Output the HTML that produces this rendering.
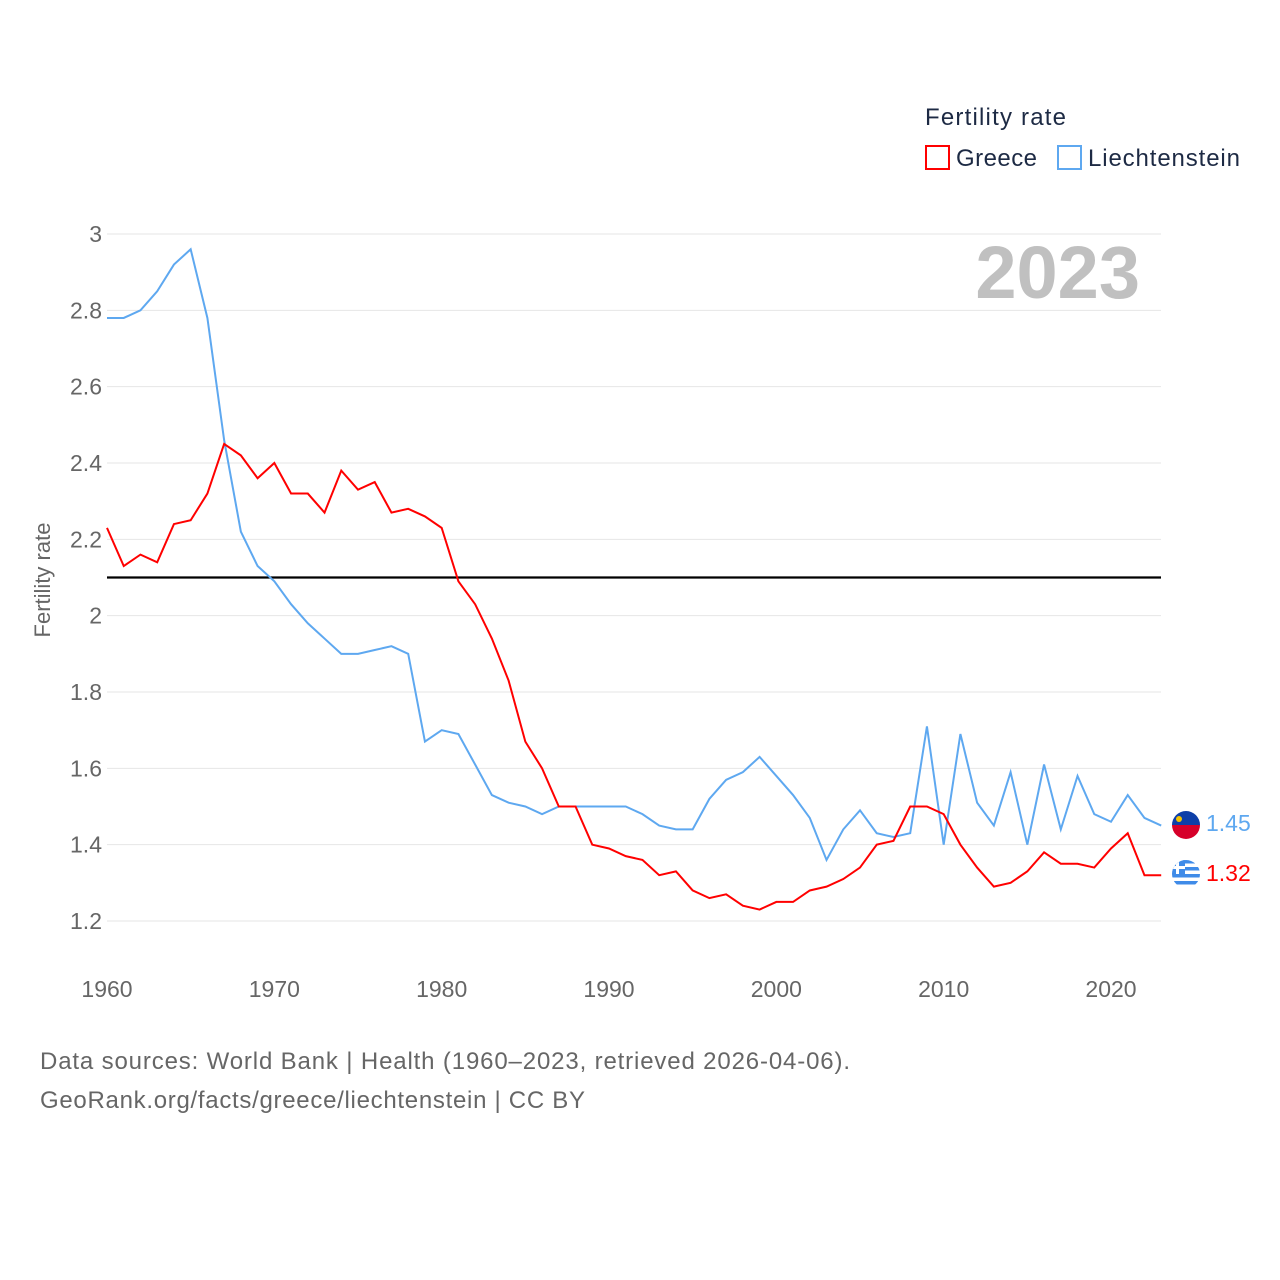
<!DOCTYPE html>
<html><head><meta charset="utf-8"><style>
body{margin:0;background:#fff;}
svg{display:block;font-family:"Liberation Sans",sans-serif;}
</style></head><body>
<svg id="chart" width="1280" height="1280" viewBox="0 0 1280 1280">
<g id="grid"></g>
<g id="yticks"></g>
<g id="xticks"></g>
<text x="1140" y="298" text-anchor="end" font-size="74" font-weight="bold" fill="#c0c0c0">2023</text>
<text transform="translate(50,580) rotate(-90)" text-anchor="middle" font-size="22" fill="#666">Fertility rate</text>
<line id="refline" x1="107" x2="1161" stroke="#000" stroke-width="2.2"/>
<g id="series"></g>
<g>
<text x="925" y="125" font-size="24" fill="#1d2a44" textLength="141">Fertility rate</text>
<g><rect x="926" y="146" width="23" height="23" fill="none" stroke="#f00" stroke-width="2"/><text x="956" y="166" font-size="24" fill="#1d2a44" textLength="81">Greece</text></g>
<g><rect x="1058" y="146" width="23" height="23" fill="none" stroke="#5ea8f0" stroke-width="2"/><text x="1088" y="166" font-size="24" fill="#1d2a44" textLength="152">Liechtenstein</text></g>
</g>
<g><clipPath id="c1"><circle cx="1186" cy="825" r="14"/></clipPath><g clip-path="url(#c1)"><rect x="1170" y="810" width="32" height="15" fill="#0d3fa8"/><rect x="1170" y="825" width="32" height="16" fill="#d6002a"/><circle cx="1179" cy="819" r="3" fill="#f5c400"/></g></g>
<g><clipPath id="c2"><circle cx="1186" cy="874" r="14"/></clipPath><g clip-path="url(#c2)"><rect x="1170" y="858" width="32" height="32" fill="#fff"/><rect x="1170" y="860" width="32" height="3.5" fill="#3f8be8"/><rect x="1170" y="867" width="32" height="3.5" fill="#3f8be8"/><rect x="1170" y="874" width="32" height="3.5" fill="#3f8be8"/><rect x="1170" y="881" width="32" height="3.5" fill="#3f8be8"/><rect x="1170" y="860" width="15" height="14" fill="#3f8be8"/><rect x="1176" y="860" width="3" height="14" fill="#fff"/><rect x="1170" y="866" width="15" height="3" fill="#fff"/></g></g>
<text x="1206" y="831" font-size="23" fill="#5ea8f0">1.45</text>
<text x="1206" y="881" font-size="23" fill="#f00">1.32</text>
<text x="40" y="1069" font-size="24" fill="#666" textLength="810">Data sources: World Bank | Health (1960–2023, retrieved 2026-04-06).</text>
<text x="40" y="1108" font-size="24" fill="#666" textLength="545">GeoRank.org/facts/greece/liechtenstein | CC BY</text>
</svg>
<script>
const years=[];for(let y=1960;y<=2023;y++)years.push(y);
const greece=[2.23,2.13,2.16,2.14,2.24,2.25,2.32,2.45,2.42,2.36,2.40,2.32,2.32,2.27,2.38,2.33,2.35,2.27,2.28,2.26,2.23,2.09,2.03,1.94,1.83,1.67,1.60,1.50,1.50,1.40,1.39,1.37,1.36,1.32,1.33,1.28,1.26,1.27,1.24,1.23,1.25,1.25,1.28,1.29,1.31,1.34,1.40,1.41,1.50,1.50,1.48,1.40,1.34,1.29,1.30,1.33,1.38,1.35,1.35,1.34,1.39,1.43,1.32,1.32];
const liechtenstein=[2.78,2.78,2.80,2.85,2.92,2.96,2.78,2.46,2.22,2.13,2.09,2.03,1.98,1.94,1.90,1.90,1.91,1.92,1.90,1.67,1.70,1.69,1.61,1.53,1.51,1.50,1.48,1.50,1.50,1.50,1.50,1.50,1.48,1.45,1.44,1.44,1.52,1.57,1.59,1.63,1.58,1.53,1.47,1.36,1.44,1.49,1.43,1.42,1.43,1.71,1.40,1.69,1.51,1.45,1.59,1.40,1.61,1.44,1.58,1.48,1.46,1.53,1.47,1.45];
const yTicks=[1.2,1.4,1.6,1.8,2,2.2,2.4,2.6,2.8,3];
const xTicks=[1960,1970,1980,1990,2000,2010,2020];
const refValue=2.1;
const NS="http://www.w3.org/2000/svg";
const X=y=>107+(y-1960)*(1004/60);
const Y=v=>234+(3-v)*(687/1.8);
function mk(tag,attrs,parent){const e=document.createElementNS(NS,tag);for(const k in attrs)e.setAttribute(k,attrs[k]);parent.appendChild(e);return e;}
const grid=document.getElementById('grid'),yt=document.getElementById('yticks'),xt=document.getElementById('xticks');
yTicks.forEach(v=>{
 const l=mk('line',{x1:107,x2:1161,y1:Y(v),y2:Y(v),stroke:'#e6e6e6','stroke-width':1},grid);
 
 
 const t=mk('text',{x:102,y:Y(v)+8,'text-anchor':'end','font-size':23,fill:'#666'},yt);
 t.textContent=String(v);
 
 
});
xTicks.forEach(v=>{
 const t=mk('text',{x:X(v),y:997,'text-anchor':'middle','font-size':23,fill:'#666'},xt);
 t.textContent=String(v);
 
 
});
const rl=document.getElementById('refline');rl.setAttribute('y1',Y(refValue));rl.setAttribute('y2',Y(refValue));
const s=document.getElementById('series');
[[liechtenstein,'#5ea8f0','line-liechtenstein'],[greece,'#f00','line-greece']].forEach(([d,c,n])=>{
 const p=mk('polyline',{points:d.map((v,i)=>X(years[i])+','+Y(v)).join(' '),fill:'none',stroke:c,'stroke-width':2},s);
 
 
});
</script>
</body></html>
